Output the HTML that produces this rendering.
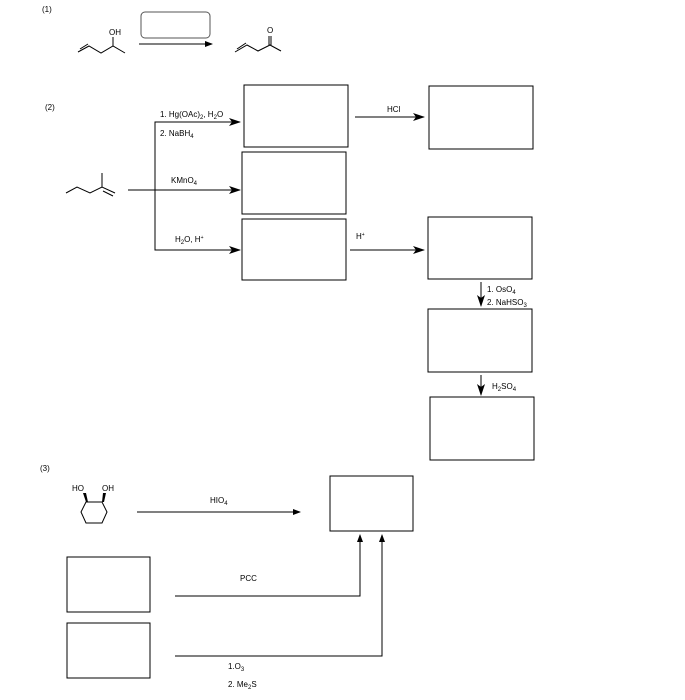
<!DOCTYPE html>
<html><head><style>body{margin:0;background:#fff}svg{display:block}text{font-family:"Liberation Sans",Arial,sans-serif;font-size:8px;fill:#000}</style></head>
<body>
<svg width="685" height="700" viewBox="0 0 685 700" xmlns="http://www.w3.org/2000/svg">
<defs><marker id="a" markerWidth="12" markerHeight="8" refX="11" refY="4" orient="auto" markerUnits="userSpaceOnUse"><path d="M0,0 L12,4 L0,8 L3,4z" fill="#000"/></marker>
<marker id="s" markerWidth="8" markerHeight="6" refX="7" refY="3" orient="auto" markerUnits="userSpaceOnUse"><path d="M0,0 L8,3 L0,6z" fill="#000"/></marker></defs>
<g stroke="#000" fill="none" stroke-width="1">
<!-- part 1 -->
<polyline points="78,52 89,46 101,53 113,46 125,53"/><line x1="80" y1="49" x2="88" y2="44"/><line x1="113" y1="46" x2="113" y2="37"/>
<rect x="141" y="12" width="69" height="26" rx="4" stroke="#555"/>
<line x1="139" y1="44" x2="212" y2="44" marker-end="url(#s)"/>
<polyline points="235,52 247,45 258,51 270,45 281,51"/><line x1="237" y1="49" x2="246" y2="43"/><line x1="269" y1="45" x2="269" y2="36"/><line x1="271" y1="45" x2="271" y2="36"/>
<!-- part 2 -->
<polyline points="66,193 77,187 90,193 102,187 115,193"/><line x1="102" y1="187" x2="102" y2="173"/><line x1="103" y1="191" x2="113" y2="196"/>
<line x1="128" y1="190" x2="240" y2="190" marker-end="url(#a)"/>
<polyline points="240,122 155,122 155,250 240,250" marker-end="url(#a)"/>
<line x1="155" y1="122" x2="240" y2="122" marker-end="url(#a)"/>
<rect x="244" y="85" width="104" height="62"/><rect x="242" y="152" width="104" height="62"/><rect x="242" y="219" width="104" height="61"/>
<rect x="429" y="86" width="104" height="63"/><rect x="428" y="217" width="104" height="62"/><rect x="428" y="309" width="104" height="63"/><rect x="430" y="397" width="104" height="63"/>
<line x1="355" y1="117" x2="424" y2="117" marker-end="url(#a)"/>
<line x1="350" y1="250" x2="424" y2="250" marker-end="url(#a)"/>
<line x1="481" y1="282" x2="481" y2="306" marker-end="url(#a)"/>
<line x1="481" y1="375" x2="481" y2="395" marker-end="url(#a)"/>
<!-- part 3 -->
<polygon points="86,502 102,502 107,512 102,523 86,523 81,512"/>
<rect x="330" y="476" width="83" height="55"/><rect x="67" y="557" width="83" height="55"/><rect x="67" y="623" width="83" height="55"/>
<line x1="137" y1="512" x2="300" y2="512" marker-end="url(#s)"/>
<polyline points="175,596 360,596 360,535" marker-end="url(#s)"/>
<polyline points="175,656 382,656 382,535" marker-end="url(#s)"/>
</g>
<polygon points="86,502 83,493 86,493 88,502" fill="#000"/><polygon points="102,502 103,493 106,493 104,502" fill="#000"/>
<text x="42" y="12">(1)</text>
<text x="109" y="35">OH</text><text x="267" y="33">O</text>
<text x="45" y="110">(2)</text>
<text x="160" y="117">1. Hg(OAc)<tspan font-size="6" dy="2">2</tspan><tspan dy="-2">, H</tspan><tspan font-size="6" dy="2">2</tspan><tspan dy="-2">O</tspan></text>
<text x="160" y="136">2. NaBH<tspan font-size="6" dy="2">4</tspan></text>
<text x="171" y="183">KMnO<tspan font-size="6" dy="2">4</tspan></text>
<text x="175" y="242">H<tspan font-size="6" dy="2">2</tspan><tspan dy="-2">O, H</tspan><tspan font-size="5" dy="-3">+</tspan></text>
<text x="387" y="112">HCl</text>
<text x="356" y="239">H<tspan font-size="5" dy="-3">+</tspan></text>
<text x="487" y="292">1. OsO<tspan font-size="6" dy="2">4</tspan></text>
<text x="487" y="305">2. NaHSO<tspan font-size="6" dy="2">3</tspan></text>
<text x="492" y="389">H<tspan font-size="6" dy="2">2</tspan><tspan dy="-2">SO</tspan><tspan font-size="6" dy="2">4</tspan></text>
<text x="40" y="471">(3)</text>
<text x="72" y="491">HO</text><text x="102" y="491">OH</text>
<text x="210" y="503">HIO<tspan font-size="6" dy="2">4</tspan></text>
<text x="240" y="581">PCC</text>
<text x="228" y="669">1.O<tspan font-size="6" dy="2">3</tspan></text>
<text x="228" y="687">2. Me<tspan font-size="6" dy="2">2</tspan><tspan dy="-2">S</tspan></text>
</svg>
</body></html>
